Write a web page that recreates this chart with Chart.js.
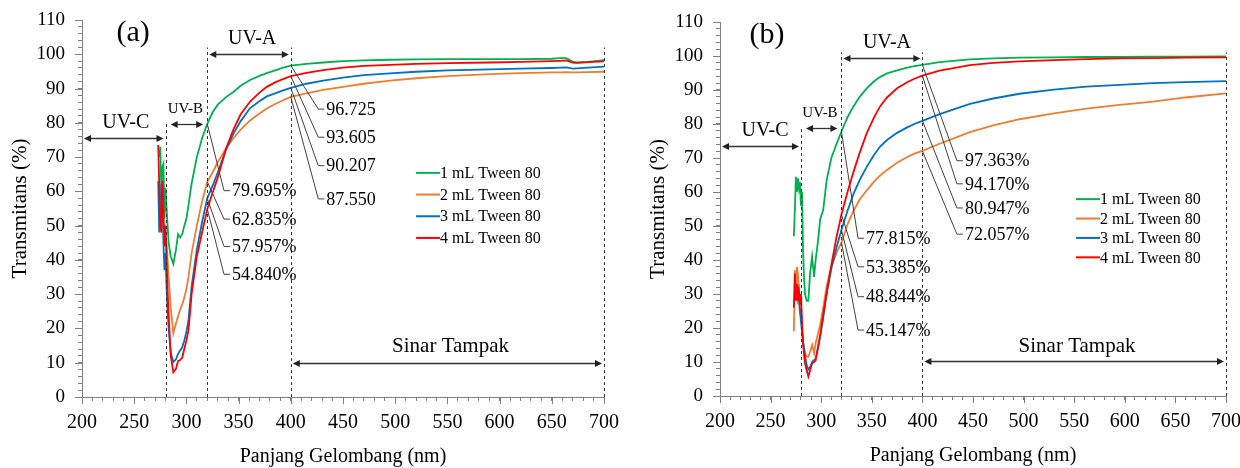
<!DOCTYPE html>
<html>
<head>
<meta charset="utf-8">
<script src="https://cdn.jsdelivr.net/npm/chart.js@4.4.1/dist/chart.umd.min.js"></script>
<style>
  html, body { margin: 0; padding: 0; background: #fff; }
  .panel { position: absolute; top: 0; width: 620px; height: 468px; }
</style>
</head>
<body>
<div class="panel" style="left:0"><canvas id="chartA" width="620" height="468"></canvas></div>
<div class="panel" style="left:620px"><canvas id="chartB" width="620" height="468"></canvas></div>
<script>
// ---- data ----
const seriesNames = ["1 mL Tween 80", "2 mL Tween 80", "3 mL Tween 80", "4 mL Tween 80"];
const xMajorTicks = [200, 250, 300, 350, 400, 450, 500, 550, 600, 650, 700];
const yMajorTicks = [0, 10, 20, 30, 40, 50, 60, 70, 80, 90, 100, 110];

// panel (a)
const wlA = [273, 274, 275, 276, 277, 278, 279, 280, 281, 282, 283,
  285, 287.5, 290, 292, 294, 296, 298, 300, 302, 305,
  310, 315, 320, 325, 330, 338, 345, 352, 361, 370,
  377, 385, 392, 400, 415, 431, 450, 470, 495, 520,
  550, 591, 620, 650, 658, 664, 670, 674, 685, 700];
const greenA = [null, 70, 73, 60, 67, 68, 52, 61, 55, 50, 45,
  41, 38.8, 43, 47.5, 46.5, 47.5, 50, 52, 56, 62.3,
  70, 75.5, 79.7, 83, 85.3, 87.5, 89, 90.8, 92.5, 93.7,
  94.5, 95.3, 96, 96.7, 97.2, 97.6, 98, 98.2, 98.4, 98.5,
  98.6, 98.6, 98.6, 98.7, 98.9, 98.9, 97.8, 97.6, 97.8, 98.3];
const orangeA = [null, null, null, null, null, null, 50, 47, 45, 40, 35,
  26, 18.6, 21.5, 23.5, 25.5, 27, 29, 31.5, 35, 42,
  50, 57, 62.8, 65.5, 68.5, 72.5, 75.5, 78, 80.7, 82.7,
  84.2, 85.5, 86.5, 87.55, 88.6, 89.6, 90.5, 91.4, 92.3, 93,
  93.6, 94.2, 94.5, 94.7, 94.7, 94.8, 94.7, 94.7, 94.8, 94.9];
const blueA = [63, 48, 55, 62, 60, 45, 37, 42, 32, 25, 20,
  13, 10.2, 11, 12.5, 13.6, 14.5, 16.5, 19, 22.4, 32.3,
  43, 51, 58, 61.5, 65.5, 72.2, 76.8, 80.5, 84.3, 86.3,
  87.7, 88.6, 89.4, 90.2, 91.4, 92.3, 93.2, 93.9, 94.4, 94.9,
  95.3, 95.6, 95.8, 96, 96.1, 96.2, 95.8, 95.9, 96.1, 96.4];
const redA = [73.5, 62, 50, 48, 63, 55, 44, 50, 40, 31, 24,
  12, 7.2, 8.2, 10.5, 10.8, 11.5, 14, 16.5, 19.5, 30,
  41, 48, 54.8, 59.5, 64, 72.5, 78, 82.5, 86.2, 88.8,
  90.5, 91.8, 92.7, 93.6, 94.6, 95.4, 96.1, 96.6, 96.9, 97.2,
  97.4, 97.6, 97.8, 98, 98.1, 98.2, 97.6, 97.5, 97.7, 97.9];

// panel (b)
const wlB = [273, 274, 275, 276, 277, 278, 279, 280, 281, 282, 283, 284,
  285.7, 287.3, 289, 291, 293, 294.5, 297, 299, 302, 305.4,
  310, 315, 320, 326, 332, 338, 345, 352, 358, 365,
  375, 385, 392, 400, 417, 447, 470, 496, 530, 562,
  595, 628, 660, 700];
const greenB = [47, 55, 64.5, 60, 64, 61, 63, 56, 60, 44, 35, 30,
  28, 28, 36, 41, 35, 40, 46, 52, 54.7, 63.5,
  70, 74, 77.8, 82, 85.2, 88, 90.5, 92.5, 93.8, 94.9,
  95.8, 96.6, 97, 97.4, 98.2, 99, 99.3, 99.5, 99.6, 99.7,
  99.7, 99.8, 99.8, 99.9];
const orangeB = [19, 37, 30, 38, 36, 30, 24, 26, 20, 16, 14.5, 12.5,
  11.6, 11.5, 13, 15, 12.6, 15.5, 18.5, 21, 26, 32.2,
  38, 42, 45.1, 50.5, 54.5, 57.8, 60.5, 63, 64.8, 66.5,
  68.6, 70.3, 71.3, 72.1, 74.2, 77.6, 79.6, 81.4, 83.1, 84.5,
  85.6, 86.6, 87.8, 89];
const blueB = [null, 30, 33, 28, 32, 29, 25, 22, 19, 16, 14, 12,
  9, 7.8, 8.5, 10, 10.5, 11, 14.5, 17.5, 23, 30.2,
  37.5, 43.5, 48.8, 54.5, 59.5, 63.5, 67.4, 70.8, 73.3, 75.3,
  77.4, 79, 80, 80.9, 82.9, 85.9, 87.5, 88.9, 90.1, 91,
  91.5, 92, 92.3, 92.6];
const redB = [26, 36, 28, 33, 29, 31, 27, 30, 22, 16, 12, 9.5,
  7.6, 5.7, 7.5, 9.6, 10, 10.5, 14.5, 18, 24, 30.2,
  38.5, 46.5, 53.4, 60, 66, 71.5, 77.3, 81.8, 85.1, 87.8,
  90.5, 92.3, 93.3, 94.2, 95.7, 97.3, 98, 98.4, 98.8, 99.1,
  99.3, 99.4, 99.5, 99.6];

// ---- annotations (data coords) ----
const annA = {
  tag: "(a)", tagAt: [249, 106.2],
  vlines: [[280, 80], [320, 102], [400, 102], [700, 102]],
  arrows: [[200, 280, 75.6], [283, 318, 79.7], [320, 400, 100], [400, 700, 9.8]],
  texts: [["UV-C", 242, 80, 20], ["UV-B", 299, 84, 15], ["UV-A", 363, 104.5, 20], ["Sinar Tampak", 553, 14.6, 21]],
  right: { from: 400, textX: 434, items: [["96.725", 84], ["93.605", 75.8], ["90.207", 67.5], ["87.550", 57.8]] },
  left: { from: 320, textX: 343.7, items: [["79.695%", 60.2], ["62.835%", 51.9], ["57.957%", 43.9], ["54.840%", 35.8]] },
  legend: { x: 520, y: 65.4, gap: 21.7 }
};
const annB = {
  tag: "(b)", tagAt: [246.4, 106.2],
  vlines: [[280, 79], [320, 101], [400, 101], [700, 101]],
  arrows: [[200, 280, 73.6], [283, 318, 78.8], [320, 400, 99.3], [400, 700, 10.3]],
  texts: [["UV-C", 244.5, 78, 20], ["UV-B", 298.8, 83.2, 15], ["UV-A", 365, 103.8, 20], ["Sinar Tampak", 552.8, 14.7, 21]],
  right: { from: 400, textX: 442, items: [["97.363%", 69.2], ["94.170%", 62.4], ["80.947%", 55.3], ["72.057%", 47.6]] },
  left: { from: 320, textX: 344.3, items: [["77.815%", 46.4], ["53.385%", 38], ["48.844%", 29.2], ["45.147%", 19.4]] },
  legend: { x: 551.8, y: 57.9, gap: 19.4 }
};

const colors = ["#00B050", "#ED7D31", "#0070C0", "#FF0000"];
const serif = "Liberation Serif";
const axisGrey = "#7f7f7f";

Chart.defaults.font.family = serif;
Chart.defaults.color = "#000";

function arrowHead(ctx, x, y, dir) {
  ctx.beginPath();
  ctx.moveTo(x, y);
  ctx.lineTo(x - dir * 7, y - 3.5);
  ctx.lineTo(x - dir * 7, y + 3.5);
  ctx.closePath();
  ctx.fill();
}

function annotPlugin(ann) {
  return {
    id: "annot",
    afterDatasetsDraw(chart) {
      const { ctx, scales: { x, y } } = chart;
      const X = v => x.getPixelForValue(v);
      const Y = v => y.getPixelForValue(v);
      ctx.save();

      // longer major tick marks
      ctx.strokeStyle = axisGrey;
      ctx.lineWidth = 1;
      yMajorTicks.forEach(v => {
        const py = Math.round(Y(v)) + 0.5;
        ctx.beginPath();
        ctx.moveTo(x.left - 7, py);
        ctx.lineTo(x.left, py);
        ctx.stroke();
      });
      xMajorTicks.forEach(v => {
        const px = Math.round(X(v)) + 0.5;
        ctx.beginPath();
        ctx.moveTo(px, y.bottom);
        ctx.lineTo(px, y.bottom + 7);
        ctx.stroke();
      });

      // dashed region borders
      ctx.strokeStyle = "#333";
      ctx.setLineDash([3, 3]);
      ann.vlines.forEach(([xv, top]) => {
        const px = Math.round(X(xv)) + 0.5;
        ctx.beginPath();
        ctx.moveTo(px, Y(0));
        ctx.lineTo(px, Y(top));
        ctx.stroke();
      });
      ctx.setLineDash([]);

      // double arrows
      ctx.strokeStyle = "#333";
      ctx.fillStyle = "#222";
      ctx.lineWidth = 1.3;
      ann.arrows.forEach(([x1, x2, yv]) => {
        const a = X(x1) + 2, b = X(x2) - 2, py = Math.round(Y(yv)) + 0.5;
        ctx.beginPath();
        ctx.moveTo(a + 4, py);
        ctx.lineTo(b - 4, py);
        ctx.stroke();
        arrowHead(ctx, a, py, -1);
        arrowHead(ctx, b, py, 1);
      });

      // region texts
      ctx.fillStyle = "#000";
      ctx.textAlign = "center";
      ctx.textBaseline = "middle";
      ann.texts.forEach(([t, xv, yv, size]) => {
        ctx.font = size + "px " + serif;
        ctx.fillText(t, X(xv), Y(yv));
      });
      ctx.font = "30px " + serif;
      ctx.fillText(ann.tag, X(ann.tagAt[0]), Y(ann.tagAt[1]));

      // leader lines + values
      ctx.font = "18px " + serif;
      ctx.textAlign = "left";
      [ann.right, ann.left].forEach(grp => {
        grp.items.forEach(([t, ly]) => {
          const sx = X(grp.from), sy = Y(parseFloat(t));
          const tx = X(grp.textX), ty = Y(ly);
          ctx.strokeStyle = "#404040";
          ctx.lineWidth = 1;
          ctx.beginPath();
          ctx.moveTo(sx, sy);
          ctx.lineTo(tx - 8, ty);
          ctx.lineTo(tx - 2, ty);
          ctx.stroke();
          ctx.fillStyle = "#000";
          ctx.fillText(t, tx, ty + 1);
        });
      });

      // legend
      ctx.font = "16px " + serif;
      const lx = X(ann.legend.x), ly0 = Y(ann.legend.y);
      seriesNames.forEach((name, i) => {
        const ly = ly0 + i * ann.legend.gap;
        ctx.strokeStyle = colors[i];
        ctx.lineWidth = 2;
        ctx.beginPath();
        ctx.moveTo(lx, ly);
        ctx.lineTo(lx + 24, ly);
        ctx.stroke();
        ctx.fillStyle = "#000";
        ctx.fillText(name, lx + 24, ly + 1);
      });
      ctx.restore();
    }
  };
}

function makeChart(id, wl, series, ann, lay) {
  const datasets = series.map((vals, i) => ({
    label: seriesNames[i],
    data: wl.map((w, k) => ({ x: w, y: vals[k] })),
    borderColor: colors[i],
    borderWidth: 1.8,
    pointRadius: 0,
    tension: 0,
    spanGaps: false,
    order: 3 - i
  }));
  return new Chart(document.getElementById(id), {
    type: "line",
    data: { datasets },
    options: {
      responsive: false,
      animation: false,
      devicePixelRatio: 1,
      layout: { padding: lay.padding },
      plugins: { legend: { display: false }, tooltip: { enabled: false } },
      scales: {
        x: {
          type: "linear",
          min: 200, max: 700,
          afterFit: s => { s.height = lay.xHeight; s.paddingLeft = 0; s.paddingRight = 0; },
          border: { display: true, color: axisGrey, width: 1 },
          grid: { drawOnChartArea: false, drawTicks: true, tickLength: 4, color: axisGrey },
          ticks: {
            stepSize: 10, autoSkip: false, maxRotation: 0, padding: 10,
            font: { family: serif, size: 20 }, color: "#000",
            callback: v => xMajorTicks.includes(v) ? String(v) : ""
          },
          title: { display: true, text: "Panjang Gelombang (nm)", font: { family: serif, size: 20, lineHeight: 1 }, color: "#000", padding: { top: 0, bottom: 0 } }
        },
        y: {
          min: 0, max: 110,
          afterFit: s => { s.width = lay.yWidth; s.paddingTop = 0; s.paddingBottom = 0; },
          border: { display: true, color: axisGrey, width: 1 },
          grid: { drawOnChartArea: false, drawTicks: true, tickLength: 4, color: axisGrey },
          ticks: {
            stepSize: 2, autoSkip: false, padding: 13,
            font: { family: serif, size: 19 }, color: "#000",
            callback: v => yMajorTicks.includes(v) ? String(v) : ""
          },
          title: { display: true, text: "Transmitans (%)", font: { family: serif, size: 21, lineHeight: 1 }, color: "#000", padding: { top: 0, bottom: 0 } }
        }
      }
    },
    plugins: [annotPlugin(ann)]
  });
}

makeChart("chartA", wlA, [greenA, orangeA, blueA, redA], annA,
  { padding: { left: 10, top: 20, right: 16, bottom: 1 }, yWidth: 72, xHeight: 70 });
makeChart("chartB", wlB, [greenB, orangeB, blueB, redB], annB,
  { padding: { left: 28, top: 22, right: 14, bottom: 2 }, yWidth: 72, xHeight: 70 });
</script>
</body>
</html>
